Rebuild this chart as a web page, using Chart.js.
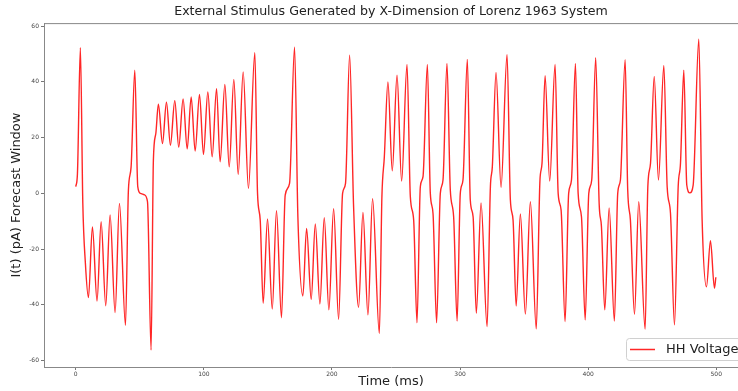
<!DOCTYPE html>
<html>
<head>
<meta charset="utf-8">
<script src="https://cdn.jsdelivr.net/npm/chart.js@4/dist/chart.umd.min.js"></script>
<style>
  html, body { margin: 0; padding: 0; background: #fff; }
  #wrap { width: 738px; height: 391px; }
</style>
</head>
<body>
<div id="wrap"><canvas id="stim" width="738" height="391"></canvas></div>
<script>
// time samples (ms) and the stimulus current (pA) at each
const timeMs = [
  0, 1.3, 3.6, 5.5, 7.5, 9.9, 13, 16.6, 19.8, 23.4, 26.8, 30.7, 34.1, 38.8, 41.1, 43.2,
  46.1, 48.4, 50.5, 53.5, 56, 58.8, 60.6, 62.5, 64.5, 67.7, 70.8, 73.9, 77.3, 80.4,
  83.8, 87, 90.1, 93.2, 96.6, 99.7, 103.1, 106.5, 109.9, 112.7, 116.4, 119.8, 123.4,
  126.8, 130.7, 134.8, 139.8, 141.9, 144, 146.3, 149.7, 153.4, 156.7, 160.6, 163.5,
  166.9, 170.8, 173.4, 177.3, 180.2, 183.8, 187, 190.6, 194, 197.6, 201.3, 205.2,
  208.3, 210.6, 213.8, 216.9, 220.8, 224.2, 228.1, 231.7, 237, 239, 240.9, 243.7,
  247.1, 250.8, 254.4, 258.6, 261.2, 263.8, 266.4, 269, 271.1, 274.5, 276.8, 278.9,
  281.7, 284.6, 286.7, 289.8, 292.4, 295, 297.7, 300.2, 302.3, 305.7, 308, 310.2,
  312.7, 316.4, 321.1, 323.7, 325.2, 328.1, 332, 336.7, 339.3, 341.4, 343.8, 347.1,
  351, 354.9, 359.5, 362.4, 364, 366.4, 370, 374.2, 376.6, 378.9, 382, 384.8, 387,
  390.1, 392.2, 394.8, 397.7, 400.5, 402.8, 405.9, 408.6, 410.4, 413, 416.4, 420.5,
  423.1, 425.2, 428.9, 430.9, 433, 436.2, 439.5, 444.5, 446.6, 448.7, 451.6, 454.9,
  459.1, 461.7, 464.3, 467.4, 470.3, 472.1, 474.7, 477, 479.4, 482, 486.4, 489,
  492.4, 495.5, 498.6, 499.7
];
const currentPA = [
  2.4, 7, 52.3, -3.5, -25, -37.4, -12, -38.6, -10.2, -40.3, -7.7, -42.8, -3.6, -47.3, 1.2, 9.5,
  44.2, 2.4, 0, -0.5, -3, -56.2, 12, 21.5, 32, 17.9, 32.7, 17.3, 33.3, 16.6,
  33.9, 16, 34.6, 15.2, 35.5, 14, 36.4, 13.1, 37.6, 11.3, 39.1, 9.5, 40.9,
  6.8, 43.6, 1.8, 50.5, 0, -9.6, -39.4, -9.2, -41.5, -6.2, -44.6, -0.6,
  3.6, 52.5, -8.4, -36.8, -12.6, -38, -11, -39.7, -8.7, -41.8, -5.5, -45.2,
  0, 3.6, 49.6, -4.8, -40.9, -6.8, -43.6, -1.9, -50.2, -1.2, 13.1, 40,
  8.1, 42.4, 4.4, 46.3, -1.2, -9.6, -46.4, 2.4, 6, 46.3, 0, -7.2,
  -46.4, 0, 4.8, 46.6, 1.2, -8.4, -45.8, 0, 4.8, 48.1, -2.4, -8.4,
  -43, -3.4, -47.8, 2.4, 9.5, 43.4, 2.2, 49.8, -2.4, -9.6, -40.4, -7.4,
  -43.3, -3, -48.6, 4.8, 10.8, 42.2, 4.4, 46.3, 0, -6, -46, 0, 4.8,
  46.6, 0, -8.4, -45.4, 0, 4.8, 48.7, -3.6, -12, -41.8, -5.2, -45.8,
  0, 4.8, 48, 1.2, -9.6, -43.4, -3, -48.7, 2.4, 10.8, 42, 4.8,
  45.9, 2.4, -7.2, -47.2, 2.4, 10.8, 44.2, 3, 0.2, 3, 55.3, -9.6,
  -33.5, -17, -34, -30.1
];
const xTicks = [0, 100, 200, 300, 400, 500];
const yTicks = [-60, -40, -20, 0, 20, 40, 60];

const LINE_RED = 'rgba(255, 0, 0, 0.85)';
const FONT = 'DejaVu Sans';

// top border of the axes box (left/bottom come from the scales)
const frameTop = {
  id: 'frameTop',
  afterDraw(chart) {
    const { ctx, chartArea } = chart;
    ctx.save();
    ctx.strokeStyle = '#888';
    ctx.lineWidth = 1;
    ctx.beginPath();
    ctx.moveTo(chartArea.left, chartArea.top + 0.5);
    ctx.lineTo(chartArea.right, chartArea.top + 0.5);
    ctx.stroke();
    ctx.restore();
  }
};

// legend box sitting in the lower right corner
const cornerLegend = {
  id: 'cornerLegend',
  afterDraw(chart) {
    const { ctx } = chart;
    const x = 626, y = 338, w = 130, h = 22, r = 3;
    ctx.save();
    ctx.fillStyle = 'rgba(255,255,255,0.85)';
    ctx.strokeStyle = '#d0d0d0';
    ctx.lineWidth = 1;
    ctx.beginPath();
    ctx.roundRect(x + 0.5, y + 0.5, w, h, r);
    ctx.fill();
    ctx.stroke();
    ctx.strokeStyle = LINE_RED;
    ctx.lineWidth = 1.5;
    ctx.beginPath();
    ctx.moveTo(630, y + h / 2 + 0.5);
    ctx.lineTo(655, y + h / 2 + 0.5);
    ctx.stroke();
    ctx.fillStyle = '#222';
    ctx.font = '13px "' + FONT + '"';
    ctx.textBaseline = 'middle';
    ctx.fillText('HH Voltage', 666, y + h / 2 + 1);
    ctx.restore();
  }
};

const points = timeMs.map((t, i) => ({ x: t, y: currentPA[i] }));

new Chart(document.getElementById('stim'), {
  type: 'line',
  data: {
    datasets: [{
      label: 'HH Voltage',
      data: points,
      borderColor: LINE_RED,
      borderWidth: 1.4,
      pointRadius: 0,
      cubicInterpolationMode: 'monotone',
      fill: false
    }]
  },
  options: {
    responsive: false,
    animation: false,
    layout: { padding: 0 },
    plugins: {
      legend: { display: false },
      tooltip: { enabled: false },
      title: {
        display: true,
        text: 'External Stimulus Generated by X-Dimension of Lorenz 1963 System',
        fullSize: false,
        color: '#222',
        font: { family: FONT, size: 12.6, weight: 'normal' },
        padding: { top: 4, bottom: 4 }
      }
    },
    scales: {
      x: {
        type: 'linear',
        min: -24.8,
        max: 517,
        afterBuildTicks: s => { s.ticks = xTicks.map(v => ({ value: v })); },
        afterFit: s => { s.height = 24; },
        grid: { drawOnChartArea: false, tickLength: 3, color: '#777' },
        border: { color: '#888' },
        ticks: {
          color: '#444', padding: 1, maxRotation: 0,
          font: { family: FONT, size: 6 }
        },
        title: {
          display: true, text: 'Time (ms)', color: '#222',
          font: { family: FONT, size: 13 }, padding: { top: 0, bottom: 2 }
        }
      },
      y: {
        min: -62.3,
        max: 61.1,
        afterBuildTicks: s => { s.ticks = yTicks.map(v => ({ value: v })); },
        afterFit: s => { s.width = 44; },
        grid: { drawOnChartArea: false, tickLength: 3, color: '#777' },
        border: { color: '#888' },
        ticks: {
          color: '#444', padding: 2,
          font: { family: FONT, size: 6 }
        },
        title: {
          display: true, text: 'I(t) (pA) Forecast Window', color: '#222',
          font: { family: FONT, size: 13 }, padding: { top: 9, bottom: 4 }
        }
      }
    }
  },
  plugins: [frameTop, cornerLegend]
});
</script>
</body>
</html>
